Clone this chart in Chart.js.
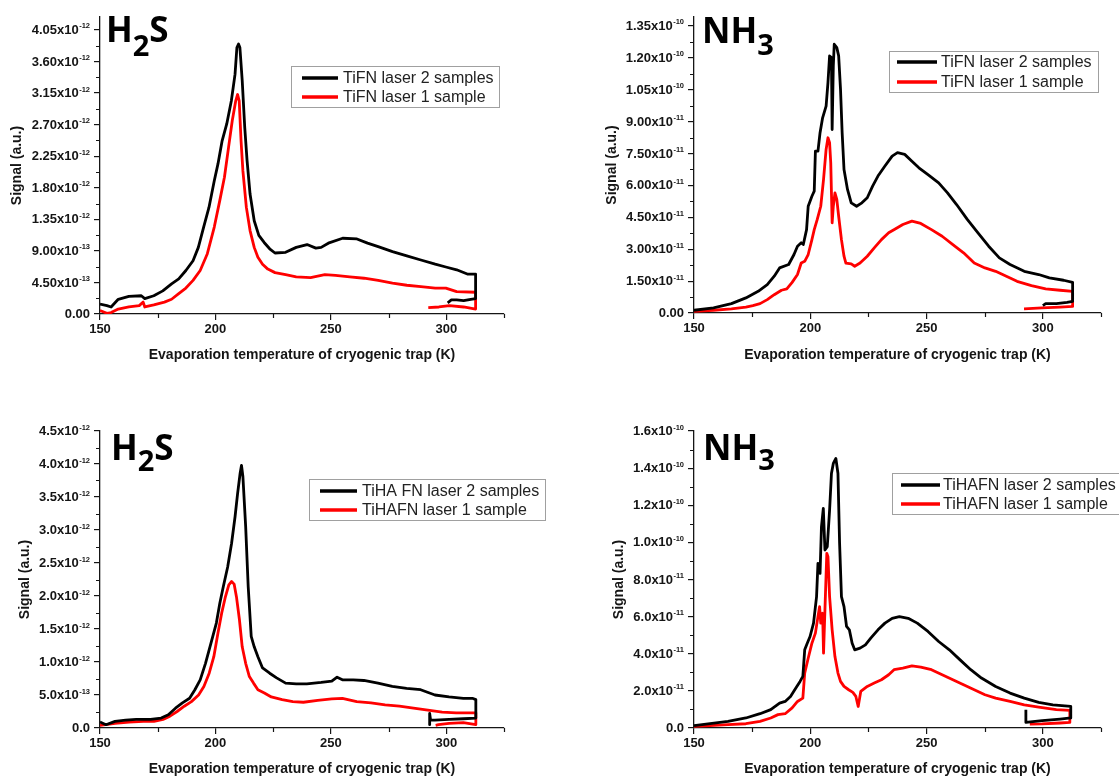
<!DOCTYPE html>
<html>
<head>
<meta charset="utf-8">
<script src="https://cdn.jsdelivr.net/npm/chart.js@4.4.1/dist/chart.umd.min.js"></script>
<style>
  html, body { margin: 0; padding: 0; background: #fff; overflow: hidden; }
  body { width: 1119px; height: 778px; position: relative; }
  canvas { position: absolute; }
</style>
</head>
<body>
<canvas id="p1" width="560" height="370" style="left:0;top:0"></canvas>
<canvas id="p2" width="559" height="370" style="left:560px;top:0"></canvas>
<canvas id="p3" width="560" height="368" style="left:0;top:410px"></canvas>
<canvas id="p4" width="559" height="368" style="left:560px;top:410px"></canvas>
<script>
// x axis, shared by all panels (K)
const tempTicks = [150, 200, 250, 300];
const tempLabels = ['150', '200', '250', '300'];
const tempMinor = [175, 225, 275, 325];

// panel 1: H2S, TiFN (signal in 1e-12); "^" marks the exponent
const h2sTicks1 = [0, 0.45, 0.9, 1.35, 1.8, 2.25, 2.7, 3.15, 3.6, 4.05];
const h2sLabels1 = ['0.00', '4.50x10^-13', '9.00x10^-13', '1.35x10^-12', '1.80x10^-12', '2.25x10^-12', '2.70x10^-12', '3.15x10^-12', '3.60x10^-12', '4.05x10^-12'];
const h2sTiFN2T = [150,153,154.8,157.9,162.5,167.9,169.4,173.3,177.2,181,184.1,187.2,190.3,192.6,194.9,197.2,199.5,201.1,202.9,204.9,206.9,208.5,209.3,210,210.6,211.6,212.7,213.7,215,216.8,218.8,221.1,223.5,225.8,230.4,235,239.7,243.5,245.8,248.9,255.1,261.3,265.9,270.5,276.7,282.9,289,295.2,299.8,304.5,309.1,312.7,312.7,310.6,307.5,304.5,302.2,300.6];
const h2sTiFN2S = [0.14,0.12,0.10,0.21,0.25,0.26,0.22,0.26,0.33,0.43,0.50,0.62,0.76,0.95,1.24,1.52,1.90,2.14,2.47,2.71,3.04,3.42,3.80,3.85,3.80,3.33,2.66,2.19,1.71,1.33,1.12,1.02,0.93,0.87,0.88,0.95,0.99,0.94,0.95,1.01,1.08,1.07,1.01,0.96,0.89,0.83,0.77,0.71,0.67,0.63,0.57,0.57,0.22,0.21,0.19,0.20,0.20,0.16];
const h2sTiFN1T = [150,153,154.8,157.9,162.5,167,168.7,169.4,173.3,177.9,181,184.1,187.2,190.3,193.4,196.5,199.5,201.9,203.9,205.7,207.3,208.8,209.6,210.3,211.1,211.9,213.4,215,216.8,218.4,220.4,222.7,225.8,230.4,235,241.2,247.4,252,258.2,264.4,270.5,276.7,282.9,289,295.2,299.8,304.5,312.7,312.7,307.5,301.4,296.8,292.2];
const h2sTiFN1S = [0.05,0.01,0.02,0.07,0.10,0.12,0.17,0.10,0.13,0.17,0.21,0.29,0.37,0.48,0.62,0.86,1.24,1.62,1.95,2.38,2.76,3.04,3.13,3.04,2.47,2.04,1.52,1.19,0.95,0.81,0.71,0.64,0.59,0.56,0.53,0.52,0.56,0.55,0.53,0.51,0.48,0.44,0.41,0.39,0.37,0.37,0.32,0.31,0.07,0.10,0.12,0.10,0.09];

// panel 2: NH3, TiFN (signal in 1e-11)
const nh3Ticks1 = [0, 1.5, 3, 4.5, 6, 7.5, 9, 10.5, 12, 13.5];
const nh3Labels1 = ['0.00', '1.50x10^-11', '3.00x10^-11', '4.50x10^-11', '6.00x10^-11', '7.50x10^-11', '9.00x10^-11', '1.05x10^-10', '1.20x10^-10', '1.35x10^-10'];
const nh3TiFN2T = [150,158.4,166.1,172.3,177.6,181.5,184.5,186.8,190.7,193,194.5,196.1,197,198.4,199.1,200.7,201.7,202.2,203.3,204.2,205.3,206.8,207.6,208.3,209.1,209.4,209.9,210.3,211.4,212.2,213,213.7,214.5,216,217.6,219.9,222.2,224.5,226.8,229.1,232.1,235.2,237.5,240.6,243.7,246.7,250.6,255.2,259,262.9,267.5,272.1,276.7,281.3,285.9,292,298.2,302.8,308.9,312.8,312.8,310.4,305.8,301.2,300];
const nh3TiFN2S = [0.13,0.24,0.44,0.71,1.02,1.33,1.73,2.12,2.28,2.75,3.14,3.30,3.22,3.92,5.02,5.49,5.73,7.61,7.61,8.48,9.18,9.73,10.83,12.09,12.01,8.63,11.62,12.64,12.48,12.09,10.52,8.48,6.75,5.81,5.18,5.02,5.18,5.42,5.97,6.44,6.91,7.38,7.54,7.46,7.14,6.83,6.51,6.12,5.65,5.10,4.40,3.77,3.14,2.59,2.28,1.96,1.81,1.65,1.54,1.44,0.55,0.50,0.44,0.44,0.35];
const nh3TiFN1T = [150,158.4,166.1,172.3,175.3,178.4,181.5,184.5,187.6,189.9,192.2,194.5,196.1,197.6,199.1,200.7,201.7,203,204.5,205.7,206.8,207.6,208.3,208.8,209.4,209.9,210.6,211.4,212.2,213.4,214.5,215.3,217.6,219.1,221.4,224.5,227.5,230.6,233.7,236.7,239.8,243.7,247.5,252.1,256.7,261.3,265.9,270.5,275.1,279.7,284.3,288.9,295.1,301.2,307.4,312.8,312.8,307.4,299.6,291.9];
const nh3TiFN1S = [0.08,0.13,0.19,0.28,0.35,0.44,0.63,0.86,1.07,1.13,1.44,1.81,2.35,2.43,2.75,3.45,3.92,4.40,5.02,6.28,7.69,8.24,8.01,7.06,4.24,5.02,5.65,5.34,4.55,3.45,2.67,2.35,2.31,2.20,2.35,2.67,3.06,3.45,3.77,3.96,4.16,4.32,4.21,3.92,3.61,3.22,2.83,2.35,2.12,1.96,1.73,1.49,1.29,1.13,1.07,1.02,0.31,0.28,0.24,0.19];

// panel 3: H2S, TiHAFN (signal in 1e-12)
const h2sTicks2 = [0, 0.5, 1, 1.5, 2, 2.5, 3, 3.5, 4, 4.5];
const h2sLabels2 = ['0.0', '5.0x10^-13', '1.0x10^-12', '1.5x10^-12', '2.0x10^-12', '2.5x10^-12', '3.0x10^-12', '3.5x10^-12', '4.0x10^-12', '4.5x10^-12'];
const h2sTiHA2T = [150,152.6,156.5,161.1,165.7,171.9,176.5,179.6,182.7,185.7,188.8,191.1,193.4,195.7,198.1,200.4,201.9,203.4,205.3,207,208.5,209.6,210.7,211.3,211.9,213.1,214.2,215.5,216.8,218.4,220.4,223.5,226.5,230.4,235,239.6,245.8,250.4,252.7,255,259.7,264.3,270.4,276.6,282.8,288.9,295.1,301.2,307.4,311.3,312.8,312.8,307.4,301.2,295.1,293.2,292.8,292.8];
const h2sTiHA2S = [0.09,0.05,0.10,0.12,0.13,0.13,0.15,0.20,0.30,0.38,0.45,0.58,0.73,0.98,1.29,1.59,1.89,2.14,2.44,2.80,3.20,3.55,3.86,3.98,3.81,3.05,2.14,1.39,1.23,1.08,0.91,0.83,0.76,0.68,0.67,0.67,0.69,0.71,0.77,0.73,0.73,0.72,0.68,0.63,0.60,0.58,0.50,0.47,0.45,0.45,0.43,0.15,0.14,0.13,0.12,0.12,0.22,0.05];
const h2sTiHA1T = [150,156.5,162.6,168.8,173.4,177.3,180.3,183.4,186.5,189.6,192.7,195,197.3,199.3,201.1,202.7,204.2,205.8,207,208.1,209.1,210.4,211.6,213.1,214.7,216.5,218.4,221.2,224.2,228.9,233.5,238.1,244.3,250.4,255,261.2,267.4,273.5,279.7,285.8,292,298.2,304.3,312.8,312.8,307.4,301.2,296.6,295.4];
const h2sTiHA1S = [0.04,0.07,0.09,0.10,0.10,0.13,0.18,0.25,0.33,0.40,0.50,0.63,0.83,1.08,1.44,1.74,1.97,2.17,2.22,2.18,1.99,1.64,1.23,0.98,0.78,0.68,0.58,0.53,0.47,0.43,0.40,0.39,0.42,0.44,0.45,0.40,0.38,0.35,0.33,0.30,0.27,0.24,0.23,0.23,0.05,0.08,0.07,0.05,0.04];

// panel 4: NH3, TiHAFN (signal in 1e-11)
const nh3Ticks2 = [0, 2, 4, 6, 8, 10, 12, 14, 16];
const nh3Labels2 = ['0.0', '2.0x10^-11', '4.0x10^-11', '6.0x10^-11', '8.0x10^-11', '1.0x10^-10', '1.2x10^-10', '1.4x10^-10', '1.6x10^-10'];
const nh3TiHA2T = [150,156.9,164.6,172.3,178.4,183,186.8,189.2,191.5,193.8,195.6,196.8,197.6,198.7,199.9,201.4,202.7,203.3,204.2,204.8,205.6,206.3,207.3,208.3,209.1,209.9,211,211.9,212.6,213.4,214.5,215.6,216.8,218,219.1,221.4,223.7,226,229.1,232.1,235.2,238.3,242.1,246,250.6,255.2,259.8,264.4,269,273.6,279.7,285.9,292,298.2,304.3,312,312,307.4,299.7,292.7,292.7];
const nh3TiHA2S = [0.13,0.23,0.36,0.54,0.77,0.99,1.34,1.43,1.70,2.15,2.51,2.78,4.21,4.57,4.93,5.65,7.08,8.87,8.33,10.84,11.83,9.59,9.77,11.74,13.71,14.25,14.52,13.71,9.95,7.08,6.54,5.47,5.29,4.57,4.21,4.30,4.48,4.84,5.29,5.65,5.91,6.00,5.91,5.65,5.20,4.66,4.21,3.67,3.14,2.69,2.24,1.88,1.61,1.38,1.25,1.16,0.54,0.48,0.40,0.30,0.98];
const nh3TiHA1T = [150,156.9,164.6,172.3,178.4,183,186.1,189.2,192.2,194.5,196.8,197.6,199.1,200.7,202.2,203.3,204,204.5,205.3,205.7,206.3,207.1,207.6,208.3,209.4,210.6,211.9,213,214.5,216.5,218.3,219.6,220.6,221.7,224.5,227.5,230.6,233.7,236,239.8,243.7,247.5,252.1,256.7,261.3,265.9,270.5,275.1,279.7,285.9,292,298.2,305.8,311.6,311.6,307.4,299.7,294.4];
const nh3TiHA1S = [0.09,0.13,0.18,0.23,0.36,0.54,0.72,0.77,1.08,1.43,1.61,2.96,3.76,4.57,5.11,6.00,6.54,5.65,6.18,4.03,6.36,9.41,9.23,7.08,5.29,3.85,2.96,2.51,2.24,2.06,1.92,1.70,1.16,1.97,2.24,2.42,2.60,2.87,3.14,3.23,3.35,3.28,3.14,2.87,2.60,2.33,2.06,1.79,1.61,1.43,1.25,1.13,0.99,0.95,0.30,0.27,0.22,0.21];

const FONT = '"Liberation Sans", Arial, sans-serif';
const INK = '#151515';

// ticks between the major ones, drawn shorter
const minorTicks = {
  id: 'minorTicks',
  afterDraw(chart, args, opts) {
    const ctx = chart.ctx;
    const xs = chart.scales.x, ys = chart.scales.y;
    ctx.save();
    ctx.strokeStyle = INK;
    ctx.lineWidth = 1.2;
    ctx.beginPath();
    opts.x.forEach(v => {
      const px = Math.round(xs.getPixelForValue(v)) + 0.5;
      ctx.moveTo(px, xs.top); ctx.lineTo(px, xs.top + 4);
    });
    opts.y.forEach(v => {
      const py = Math.round(ys.getPixelForValue(v)) + 0.5;
      ctx.moveTo(ys.right - 4, py); ctx.lineTo(ys.right, py);
    });
    ctx.stroke();
    ctx.restore();
  }
};

// y tick labels like 4.05x10^-12, with a real raised exponent
const powerLabels = {
  id: 'powerLabels',
  afterDraw(chart, args, o) {
    const ctx = chart.ctx;
    const ys = chart.scales.y;
    const baseFont = 'bold 13px ' + FONT;
    const expFont = 'bold 7.5px ' + FONT;
    ctx.save();
    ctx.fillStyle = INK;
    ctx.textAlign = 'left';
    ctx.textBaseline = 'middle';
    o.ticks.forEach((v, i) => {
      const py = ys.getPixelForValue(v);
      const [base, exp] = o.labels[i].split('^');
      ctx.font = baseFont;
      const wb = ctx.measureText(base).width;
      let we = 0;
      if (exp) { ctx.font = expFont; we = ctx.measureText(exp).width + 0.5; }
      const x0 = ys.right - o.gap - wb - we;
      ctx.font = baseFont;
      ctx.fillText(base, x0, py + 0.5);
      if (exp) {
        ctx.font = expFont;
        ctx.textBaseline = 'alphabetic';
        ctx.fillText(exp, x0 + wb + 0.5, py - 1.5);
        ctx.textBaseline = 'middle';
      }
    });
    ctx.restore();
  }
};

// framed legend inside the plot
const boxLegend = {
  id: 'boxLegend',
  afterDatasetsDraw(chart, args, o) {
    const ctx = chart.ctx;
    ctx.save();
    ctx.fillStyle = '#fff';
    ctx.fillRect(o.left, o.top, o.width, o.height);
    ctx.strokeStyle = '#a0a0a0';
    ctx.lineWidth = 1;
    ctx.strokeRect(o.left + 0.5, o.top + 0.5, o.width, o.height);
    chart.data.datasets.forEach((ds, i) => {
      const y = o.rows[i];
      ctx.strokeStyle = ds.borderColor;
      ctx.lineWidth = 3.4;
      ctx.beginPath();
      ctx.moveTo(o.lineFrom, y); ctx.lineTo(o.lineTo, y);
      ctx.stroke();
      ctx.fillStyle = '#222';
      ctx.font = '16px ' + FONT;
      ctx.textBaseline = 'middle';
      ctx.fillText(ds.label, o.textX, y + 1);
    });
    ctx.restore();
  }
};

// big gas name with subscript
const gasTitle = {
  id: 'gasTitle',
  afterDraw(chart, args, o) {
    const ctx = chart.ctx;
    const big = '700 35px "Open Sans", "Noto Sans", sans-serif';
    const small = '700 29px "Open Sans", "Noto Sans", sans-serif';
    ctx.save();
    ctx.fillStyle = '#000';
    ctx.textBaseline = 'alphabetic';
    let x = o.x;
    ctx.font = big;
    ctx.fillText(o.text[0], x, o.y);
    x += ctx.measureText(o.text[0]).width;
    ctx.font = small;
    ctx.fillText(o.text[1], x, o.y + o.dy);
    x += ctx.measureText(o.text[1]).width;
    ctx.font = big;
    ctx.fillText(o.text[2], x, o.y);
    ctx.restore();
  }
};

function midpoints(ticks, max) {
  const out = [];
  for (let i = 0; i < ticks.length; i++) {
    const step = i > 0 ? ticks[i] - ticks[i - 1] : ticks[1] - ticks[0];
    const m = ticks[i] + step / 2;
    if (m <= max) out.push(m);
  }
  return out;
}

function toPoints(xs, ys) {
  return xs.map((x, i) => ({ x: x, y: ys[i] }));
}

function makePanel(id, p) {
  const canvas = document.getElementById(id);
  const H = canvas.height, W = canvas.width;
  new Chart(canvas, {
    type: 'scatter',
    data: {
      datasets: [
        { label: p.names[0], data: toPoints(p.black[0], p.black[1]), borderColor: '#000', showLine: true },
        { label: p.names[1], data: toPoints(p.red[0], p.red[1]), borderColor: '#ff0000', showLine: true }
      ]
    },
    options: {
      responsive: false,
      animation: false,
      layout: { padding: { left: 0, top: p.area.t, right: W - p.area.r, bottom: 0 } },
      elements: {
        point: { radius: 0, hoverRadius: 0 },
        line: { borderWidth: 2.8, tension: 0, borderJoinStyle: 'round', borderCapStyle: 'butt', fill: false }
      },
      scales: {
        x: {
          type: 'linear', min: 150, max: 325,
          afterBuildTicks: s => { s.ticks = tempTicks.map(v => ({ value: v })); },
          afterFit: s => { s.height = H - p.area.b; },
          ticks: { autoSkip: false, maxRotation: 0, padding: 2, color: INK,
                   font: { family: FONT, size: 13, weight: 'bold' },
                   callback: (v, i) => tempLabels[i] },
          grid: { drawOnChartArea: false, tickLength: 6, color: INK, lineWidth: 1.2 },
          border: { color: INK, width: 1.3 },
          title: { display: true, text: 'Evaporation temperature of cryogenic trap (K)', color: INK,
                   font: { family: FONT, size: 14, weight: 'bold' }, padding: { top: 0, bottom: p.xTitlePad } }
        },
        y: {
          type: 'linear', min: 0, max: p.yMax,
          afterBuildTicks: s => { s.ticks = p.yTicks.map(v => ({ value: v })); },
          afterFit: s => { s.width = p.area.l; },
          ticks: { autoSkip: false, callback: () => '' },
          grid: { drawOnChartArea: false, tickLength: 6, color: INK, lineWidth: 1.2 },
          border: { color: INK, width: 1.3 },
          title: { display: true, text: 'Signal (a.u.)', color: INK,
                   font: { family: FONT, size: 14, weight: 'bold' }, padding: { top: p.yTitlePad, bottom: 0 } }
        }
      },
      plugins: {
        legend: { display: false },
        tooltip: { enabled: false },
        minorTicks: { x: tempMinor, y: midpoints(p.yTicks, p.yMax) },
        powerLabels: { ticks: p.yTicks, labels: p.yLabels, gap: 10 },
        boxLegend: p.legend,
        gasTitle: p.title
      }
    },
    plugins: [minorTicks, powerLabels, boxLegend, gasTitle]
  });
}

makePanel('p1', {
  area: { l: 100, t: 17, r: 504, b: 314 },
  yMax: 4.235, yTicks: h2sTicks1, yLabels: h2sLabels1,
  black: [h2sTiFN2T, h2sTiFN2S], red: [h2sTiFN1T, h2sTiFN1S],
  names: ['TiFN laser 2 samples', 'TiFN laser 1 sample'],
  yTitlePad: 9, xTitlePad: 6.6,
  legend: { left: 291, top: 66, width: 208, height: 41, rows: [78, 97], lineFrom: 302, lineTo: 338, textX: 343 },
  title: { x: 106, y: 42, dy: 14, text: ['H', '2', 'S'] }
});

makePanel('p2', {
  area: { l: 134, t: 17, r: 541, b: 313 },
  yMax: 13.92, yTicks: nh3Ticks1, yLabels: nh3Labels1,
  black: [nh3TiFN2T, nh3TiFN2S], red: [nh3TiFN1T, nh3TiFN1S],
  names: ['TiFN laser 2 samples', 'TiFN laser 1 sample'],
  yTitlePad: 43.6, xTitlePad: 6.6,
  legend: { left: 329, top: 51, width: 209, height: 41, rows: [62, 82], lineFrom: 337, lineTo: 377, textX: 381 },
  title: { x: 142, y: 43, dy: 12, text: ['NH', '3', ''] }
});

makePanel('p3', {
  area: { l: 100, t: 21, r: 504, b: 318 },
  yMax: 4.5, yTicks: h2sTicks2, yLabels: h2sLabels2,
  black: [h2sTiHA2T, h2sTiHA2S], red: [h2sTiHA1T, h2sTiHA1S],
  names: ['TiHA FN laser 2 samples', 'TiHAFN laser 1 sample'],
  yTitlePad: 16.6, xTitlePad: 0,
  legend: { left: 309, top: 69, width: 236, height: 41, rows: [81, 100], lineFrom: 320, lineTo: 357, textX: 362 },
  title: { x: 111, y: 50, dy: 11, text: ['H', '2', 'S'] }
});

makePanel('p4', {
  area: { l: 134, t: 21, r: 541, b: 318 },
  yMax: 16, yTicks: nh3Ticks2, yLabels: nh3Labels2,
  black: [nh3TiHA2T, nh3TiHA2S], red: [nh3TiHA1T, nh3TiHA1S],
  names: ['TiHAFN laser 2 samples', 'TiHAFN laser 1 sample'],
  yTitlePad: 50.6, xTitlePad: 0,
  legend: { left: 332, top: 63, width: 240, height: 41, rows: [75, 94], lineFrom: 341, lineTo: 380, textX: 383 },
  title: { x: 143, y: 50, dy: 10, text: ['NH', '3', ''] }
});
</script>
</body>
</html>
